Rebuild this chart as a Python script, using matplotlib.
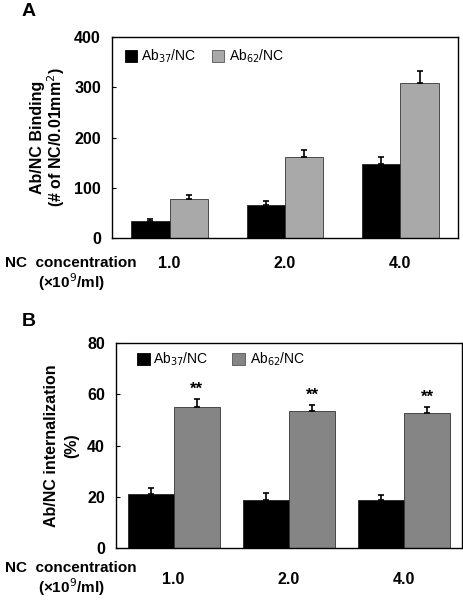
import numpy as np
import matplotlib.pyplot as plt
from matplotlib.patches import Rectangle

plt.rcParams['font.family'] = ['Liberation Sans', 'DejaVu Sans']

conc_labels = ['1.0', '2.0', '4.0']

# panel A: binding
bind_ab37 = [34, 66, 148]
bind_ab37_err = [3, 7, 13]
bind_ab62 = [77, 162, 308]
bind_ab62_err = [8, 13, 24]

# panel B: internalization (%)
int_ab37 = [21.0, 18.9, 18.9]
int_ab37_err = [2.3, 2.7, 1.6]
int_ab62 = [55.2, 53.4, 52.5]
int_ab62_err = [3.0, 2.3, 2.5]
stars = ['**', '**', '**']

fig = plt.figure(figsize=(4.64, 6.0), dpi=100)
W, H = 464.0, 600.0


def fy(y):
    return 1 - y / H


def panel(rect, y37, e37, y62, e62, width, gray, ymax, yticks, ylabel, ylab_x, lspace,
          leg1, leg2, letter, letter_y, conc_y, tick_pad, stars=None):
    ax = fig.add_axes([rect[0] / W, fy(rect[3]), (rect[2] - rect[0]) / W, (rect[3] - rect[1]) / H])
    x = np.arange(len(conc_labels))
    ekw = dict(ecolor='black', elinewidth=1.2, capsize=2.5, capthick=1.2)
    ax.bar(x - width / 2, y37, width, color='black', edgecolor='#222222', linewidth=0.6,
           yerr=[np.zeros(3), e37], error_kw=ekw)
    ax.bar(x + width / 2, y62, width, color=gray, edgecolor='#333333', linewidth=0.6,
           yerr=[np.zeros(3), e62], error_kw=ekw)
    if stars is not None:
        for i, s in enumerate(stars):
            ax.text(x[i] + width / 2, y62[i] + e62[i] + ymax * 0.01, s, ha='center', va='bottom',
                    fontsize=12, fontweight='bold')
    ax.set_xlim(-0.5, 2.5)
    ax.set_ylim(0, ymax)
    ax.set_yticks(yticks)
    ax.set_yticklabels([str(t) for t in yticks], fontsize=11.5, fontweight='bold')
    ax.tick_params(axis='y', direction='in', length=3, width=0.8, pad=8)
    ax.set_xticks(x)
    ax.set_xticklabels(conc_labels, fontsize=11.5, fontweight='bold')
    ax.tick_params(axis='x', length=0, pad=tick_pad)
    for sp in ax.spines.values():
        sp.set_linewidth(1.0)
    ax.set_ylabel(ylabel, fontsize=11.5, fontweight='bold', linespacing=lspace)
    ax.yaxis.set_label_coords(ylab_x, 0.5)

    # legend drawn by hand
    ax.add_patch(Rectangle((leg1[0], leg1[1]), leg1[2], leg1[3], transform=ax.transAxes,
                           facecolor='black', edgecolor='black', lw=0.6, clip_on=False))
    ax.text(leg1[0] + leg1[2] + 0.01, leg1[1] + leg1[3] / 2, r'Ab$_{37}$/NC', transform=ax.transAxes,
            fontsize=10, va='center', ha='left')
    ax.add_patch(Rectangle((leg2[0], leg2[1]), leg2[2], leg2[3], transform=ax.transAxes,
                           facecolor=gray, edgecolor='#555555', lw=0.6, clip_on=False))
    ax.text(leg2[0] + leg2[2] + 0.015, leg2[1] + leg2[3] / 2, r'Ab$_{62}$/NC', transform=ax.transAxes,
            fontsize=10, va='center', ha='left')

    fig.text(22 / W, fy(letter_y), letter, fontsize=14, fontweight='bold', va='center')
    fig.text(71 / W, fy(conc_y), 'NC  concentration', fontsize=11, fontweight='bold', ha='center', va='center')
    fig.text(71 / W, fy(conc_y + 19), '(\u00d710$^9$/ml)', fontsize=11, fontweight='bold', ha='center', va='center')
    return ax


panel((112, 37, 458, 238), bind_ab37, bind_ab37_err, bind_ab62, bind_ab62_err, 1 / 3, '#a9a9a9',
      400, [0, 100, 200, 300, 400], 'Ab/NC Binding\n(# of NC/0.01mm$^2$)', -0.13, 1.0,
      (0.038, 0.876, 0.035, 0.06), (0.289, 0.876, 0.035, 0.06), 'A', 12, 263, 13)
panel((116, 343, 462, 548), int_ab37, int_ab37_err, int_ab62, int_ab62_err, 0.4, '#858585',
      80, [0, 20, 40, 60, 80], 'Ab/NC internalization\n(%)', -0.105, 1.5,
      (0.061, 0.893, 0.037, 0.058), (0.335, 0.893, 0.037, 0.058), 'B', 321, 568, 17, stars=stars)

fig.savefig('out.png', dpi=100, facecolor='white')
